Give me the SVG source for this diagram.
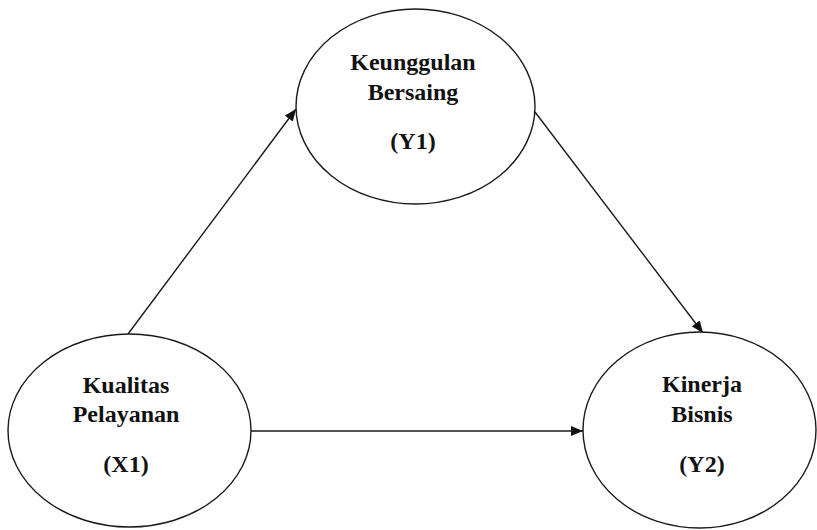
<svg xmlns="http://www.w3.org/2000/svg" width="817" height="530" viewBox="0 0 817 530">
  <style>
    .node ellipse { fill: #ffffff; stroke: #1a1a1a; stroke-width: 1.4; }
    .node text { font-family: "Liberation Serif", "Times New Roman", serif; font-weight: bold; font-size: 24px; fill: #111111; text-anchor: middle; }
    .edge { stroke: #1a1a1a; stroke-width: 1.4; fill: none; marker-end: url(#arrow); }
  </style>
  <defs>
    <marker id="arrow" viewBox="0 0 12 10" refX="12" refY="5" markerWidth="12" markerHeight="10" markerUnits="userSpaceOnUse" orient="auto">
      <path d="M0,0 L12,5 L0,10 Z" fill="#111111"/>
    </marker>
  </defs>
  <rect width="817" height="530" fill="#ffffff"/>

  <g id="connectors">
    <line class="edge" x1="128" y1="334" x2="296" y2="109"/>
    <line class="edge" x1="535" y1="112" x2="703" y2="333"/>
    <line class="edge" x1="251" y1="431" x2="583" y2="431"/>
  </g>

  <g id="node-y1" class="node">
    <ellipse cx="415.5" cy="106.5" rx="119.5" ry="97.5"/>
    <text x="413" y="70">Keunggulan</text>
    <text x="413" y="100">Bersaing</text>
    <text x="413" y="149">(Y1)</text>
  </g>

  <g id="node-x1" class="node">
    <ellipse cx="129.5" cy="430.5" rx="121.5" ry="96.5"/>
    <text x="126" y="393">Kualitas</text>
    <text x="126" y="422">Pelayanan</text>
    <text x="126" y="472">(X1)</text>
  </g>

  <g id="node-y2" class="node">
    <ellipse cx="699.5" cy="430" rx="116.5" ry="98"/>
    <text x="702" y="392">Kinerja</text>
    <text x="702" y="422">Bisnis</text>
    <text x="702" y="472">(Y2)</text>
  </g>
</svg>
